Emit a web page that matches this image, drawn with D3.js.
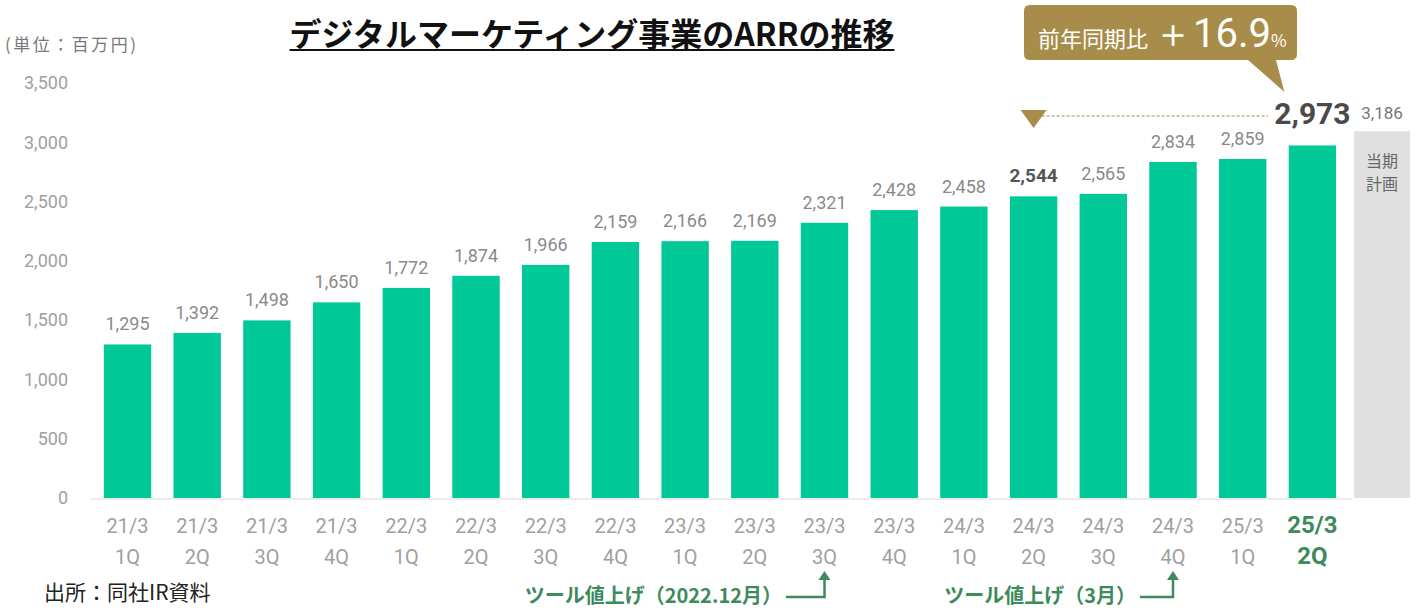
<!DOCTYPE html>
<html>
<head>
<meta charset="utf-8">
<script src="https://cdn.jsdelivr.net/npm/d3@7"></script>
<style>
  body { margin: 0; background: #fff; }
  text { font-family: "Noto Sans CJK JP", "Noto Sans", sans-serif; }
</style>
</head>
<body>
<div id="chart"></div>
<script>
// data
const years = ["21/3","21/3","21/3","21/3","22/3","22/3","22/3","22/3","23/3","23/3","23/3","23/3","24/3","24/3","24/3","24/3","25/3","25/3"];
const quarters = ["1Q","2Q","3Q","4Q","1Q","2Q","3Q","4Q","1Q","2Q","3Q","4Q","1Q","2Q","3Q","4Q","1Q","2Q"];
const arr = [1295,1392,1498,1650,1772,1874,1966,2159,2166,2169,2321,2428,2458,2544,2565,2834,2859,2973];
const planValue = 3186;
const yTicks = [0,500,1000,1500,2000,2500,3000,3500];

const width = 1425, height = 610;
const green = "#00c896";
const gold = "#a88d4a";
const noteGreen = "#3d8a5c";
const numFont = "Roboto, 'Noto Sans', sans-serif";

const svg = d3.select("#chart").append("svg")
  .attr("width", width)
  .attr("height", height);

const slots = arr.map((_, i) => i).concat(["plan"]);

const x = d3.scaleBand()
  .domain(slots)
  .range([92.65, 1416.95])
  .paddingInner(0.32)
  .paddingOuter(0.16);

const y = d3.scaleLinear()
  .domain([0, 3500])
  .range([498, 83]);

// y axis
const yAxis = svg.append("g")
  .attr("transform", "translate(70,0)")
  .call(d3.axisLeft(y).tickValues(yTicks).tickFormat(d3.format(",")).tickSize(0).tickPadding(2));
yAxis.select(".domain").remove();
yAxis.selectAll("text")
  .attr("fill", "#a0a0a0")
  .style("font-size", "18px")
  .style("font-family", numFont);

// baseline
svg.append("line")
  .attr("x1", 90).attr("x2", 1352)
  .attr("y1", y(0) + 1).attr("y2", y(0) + 1)
  .attr("stroke", "#ececec").attr("stroke-width", 2);

// plan bar (gray)
const planW = 56;
const planC = x("plan") + x.bandwidth() / 2;
svg.append("rect")
  .attr("x", planC - planW / 2)
  .attr("y", y(planValue) + 11)
  .attr("width", planW)
  .attr("height", y(0) - y(planValue) - 11)
  .attr("fill", "#e0e0e0");
svg.append("text")
  .attr("x", planC)
  .attr("y", y(planValue) - 1)
  .attr("text-anchor", "middle")
  .attr("fill", "#777")
  .style("font-size", "17px")
  .style("font-family", numFont)
  .text(d3.format(",")(planValue));
svg.append("text")
  .attr("x", planC)
  .attr("y", y(planValue) + 47)
  .attr("text-anchor", "middle")
  .attr("fill", "#666")
  .style("font-size", "16px")
  .selectAll("tspan")
  .data(["当期", "計画"])
  .join("tspan")
  .attr("x", planC)
  .attr("dy", (d, i) => i ? 23 : 0)
  .text(d => d);

// bars
svg.selectAll("rect.bar")
  .data(arr)
  .join("rect")
  .attr("class", "bar")
  .attr("x", (d, i) => x(i))
  .attr("y", d => y(d))
  .attr("width", x.bandwidth())
  .attr("height", d => y(0) - y(d))
  .attr("fill", green);

// value labels
const last = arr.length - 1;
svg.selectAll("text.val")
  .data(arr)
  .join("text")
  .attr("class", "val")
  .attr("x", (d, i) => x(i) + x.bandwidth() / 2)
  .attr("y", (d, i) => y(d) - (i === last ? 21 : 14))
  .attr("text-anchor", "middle")
  .attr("fill", (d, i) => i === 13 ? "#555" : i === last ? "#4a4a4a" : "#8a8a8a")
  .style("font-weight", (d, i) => (i === 13 || i === last) ? "bold" : "normal")
  .style("font-size", (d, i) => i === last ? "30px" : (i === 13 ? "19px" : "18px"))
  .style("font-family", numFont)
  .text(d => d3.format(",")(d));

// x axis labels
const xAxis = svg.append("g")
  .attr("transform", `translate(0,${y(0)})`)
  .call(d3.axisBottom(x).tickValues(arr.map((_, i) => i)).tickSize(0).tickFormat(""));
xAxis.select(".domain").remove();
xAxis.selectAll(".tick").each(function(i) {
  const t = d3.select(this).append("text")
    .attr("text-anchor", "middle")
    .attr("fill", i === last ? noteGreen : "#a0a0a0")
    .style("font-weight", i === last ? "bold" : "normal")
    .style("font-size", i === last ? "24px" : "20px")
    .style("font-family", numFont);
  t.append("tspan").attr("x", 0).attr("y", 35).text(years[i]);
  t.append("tspan").attr("x", 0).attr("y", 66).text(quarters[i]);
});

// title
const title = svg.append("text")
  .attr("x", 592)
  .attr("y", 46)
  .attr("text-anchor", "middle")
  .attr("fill", "#111")
  .style("font-size", "32px")
  .style("font-weight", "bold")
  .text("デジタルマーケティング事業のARRの推移");
const tb = title.node().getBBox();
svg.append("line")
  .attr("x1", tb.x).attr("x2", tb.x + tb.width)
  .attr("y1", 50).attr("y2", 50)
  .attr("stroke", "#111").attr("stroke-width", 2);

// unit
svg.append("text")
  .attr("x", 5).attr("y", 51)
  .attr("fill", "#777")
  .style("font-size", "17px")
  .style("letter-spacing", "2.5px")
  .text("(単位：百万円)");

// source
svg.append("text")
  .attr("x", 44).attr("y", 600)
  .attr("fill", "#222")
  .style("font-size", "21px")
  .text("出所：同社IR資料");

// callout
const tipX = x(last) + x.bandwidth() / 2 - 28;
svg.append("path")
  .attr("d", `M1030,5 H1291 Q1297,5 1297,11 V54 Q1297,60 1291,60 H1276 L${tipX},92 L1248,60 H1030 Q1024,60 1024,54 V11 Q1024,5 1030,5 Z`)
  .attr("fill", gold);
const ct = svg.append("text")
  .attr("x", 1038).attr("y", 47)
  .attr("fill", "#fff");
ct.append("tspan").style("font-size", "22px").text("前年同期比 ");
ct.append("tspan").style("font-size", "40px").style("font-family", numFont).text("＋16.9");
ct.append("tspan").style("font-size", "17px").text("%");

// dashed comparison line and triangle
const cmpX = x(13) + x.bandwidth() / 2;
svg.append("line")
  .attr("x1", cmpX + 8).attr("x2", 1268)
  .attr("y1", 116).attr("y2", 116)
  .attr("stroke", gold).attr("stroke-width", 1)
  .attr("stroke-dasharray", "3,2");
svg.append("path")
  .attr("d", `M${cmpX - 13},110 L${cmpX + 13},110 L${cmpX},128 Z`)
  .attr("fill", gold);

// bottom notes
function note(label, textEnd, idx) {
  const cx = x(idx) + x.bandwidth() / 2;
  svg.append("text")
    .attr("x", textEnd).attr("y", 603)
    .attr("text-anchor", "end")
    .attr("fill", noteGreen)
    .style("font-size", "20px")
    .style("font-weight", "bold")
    .text(label);
  svg.append("path")
    .attr("d", `M${textEnd + 4},597 H${cx} V578`)
    .attr("fill", "none")
    .attr("stroke", noteGreen)
    .attr("stroke-width", 2.5);
  svg.append("path")
    .attr("d", `M${cx - 6},580 L${cx + 6},580 L${cx},571 Z`)
    .attr("fill", noteGreen);
}
note("ツール値上げ（2022.12月）", 782, 10);
note("ツール値上げ（3月）", 1136, 15);
</script>
</body>
</html>
